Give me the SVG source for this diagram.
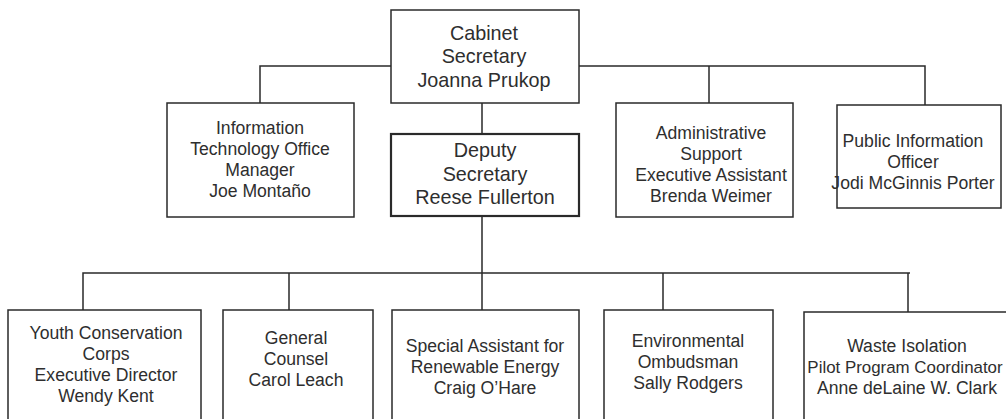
<svg xmlns="http://www.w3.org/2000/svg" width="1006" height="419" viewBox="0 0 1006 419">
<style>
.box{fill:#fff;stroke:#2a2a2a;stroke-width:1.5}
.thick{stroke-width:2.2}
.t{font-family:"Liberation Sans",Arial,sans-serif;font-size:17.6px;fill:#2e2e2e;text-anchor:middle}
.tl{font-size:19.8px}
.c{fill:none;stroke:#2a2a2a;stroke-width:1.5}
</style>
<rect width="1006" height="419" fill="#fff"/>
<g id="connectors">
<path class="c" d="M260,103 V66 H391 M579,66 H925 V105 M709,66 V103 M482,103 V134"/>
<path class="c" d="M482,216 V310 M83,310 V273 H910 M289,273 V310 M663,273 V310 M908,273 V312"/>
</g>
<g id="cabinet">
<rect class="box" x="391" y="10" width="188" height="93"/>
<text class="t tl" x="484" y="40">Cabinet</text>
<text class="t tl" x="484" y="63">Secretary</text>
<text class="t tl" x="484" y="87">Joanna Prukop</text>
</g>
<g id="deputy">
<rect class="box thick" x="391" y="134" width="188" height="82"/>
<text class="t tl" x="485" y="157">Deputy</text>
<text class="t tl" x="485" y="181">Secretary</text>
<text class="t tl" x="485" y="204">Reese Fullerton</text>
</g>
<g id="it">
<rect class="box" x="167" y="103" width="187" height="114"/>
<text class="t" x="260" y="134">Information</text>
<text class="t" x="260" y="155">Technology Office</text>
<text class="t" x="260" y="176">Manager</text>
<text class="t" x="260" y="197">Joe Montaño</text>
</g>
<g id="admin">
<rect class="box" x="616" y="103" width="177" height="114"/>
<text class="t" x="711" y="139">Administrative</text>
<text class="t" x="711" y="160">Support</text>
<text class="t" x="711" y="181">Executive Assistant</text>
<text class="t" x="711" y="202">Brenda Weimer</text>
</g>
<g id="public">
<rect class="box" x="837" y="105" width="164" height="103"/>
<text class="t" x="913" y="147">Public Information</text>
<text class="t" x="913" y="168">Officer</text>
<text class="t" x="913" y="189">Jodi McGinnis Porter</text>
</g>
<g id="youth">
<rect class="box" x="8" y="310" width="193" height="120"/>
<text class="t" x="106" y="339">Youth Conservation</text>
<text class="t" x="106" y="360">Corps</text>
<text class="t" x="106" y="381">Executive Director</text>
<text class="t" x="106" y="402">Wendy Kent</text>
</g>
<g id="general">
<rect class="box" x="223" y="310" width="150" height="120"/>
<text class="t" x="296" y="344">General</text>
<text class="t" x="296" y="365">Counsel</text>
<text class="t" x="296" y="386">Carol Leach</text>
</g>
<g id="special">
<rect class="box" x="392" y="310" width="187" height="120"/>
<text class="t" x="485" y="352">Special Assistant for</text>
<text class="t" x="485" y="373">Renewable Energy</text>
<text class="t" x="485" y="394">Craig O’Hare</text>
</g>
<g id="env">
<rect class="box" x="604" y="310" width="169" height="120"/>
<text class="t" x="688" y="347">Environmental</text>
<text class="t" x="688" y="368">Ombudsman</text>
<text class="t" x="688" y="389">Sally Rodgers</text>
</g>
<g id="waste">
<rect class="box" x="804" y="312" width="206" height="118"/>
<text class="t" x="907" y="352">Waste Isolation</text>
<text class="t" x="905" y="373" style="font-size:16.9px">Pilot Program Coordinator</text>
<text class="t" x="907" y="394">Anne deLaine W. Clark</text>
</g>
</svg>
